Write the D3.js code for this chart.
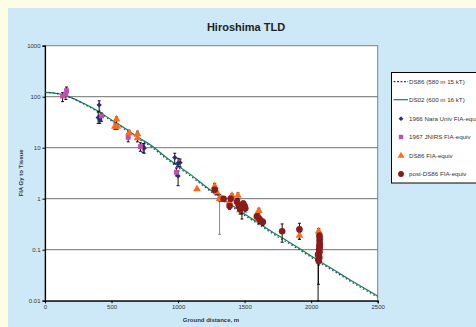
<!DOCTYPE html>
<html><head><meta charset="utf-8">
<script src="https://cdn.jsdelivr.net/npm/d3@7"></script>
<style>body{margin:0;background:#fdfde6;}svg{display:block;font-family:"Liberation Sans",Arial,sans-serif;}</style>
</head><body><svg id="c" width="476" height="327"></svg>
<script>
// ---- data ----
const title = "Hiroshima TLD";
const xLabel = "Ground distance, m";
const yLabel = "FIA Gy to Tissue";
const xTicks = [0, 500, 1000, 1500, 2000, 2500];
const yTicks = [0.01, 0.1, 1, 10, 100, 1000];
const yTickLabels = ["0.01", "0.1", "1", "10", "100", "1000"];
const legendLabels = ["DS86 (580 m 15 kT)", "DS02 (600 m 16 kT)", "1966 Nara Univ FIA-equiv", "1967 JNIRS FIA-equiv", "DS86 FIA-equiv", "post-DS86 FIA-equiv"];

const curveDist = [0, 100, 200, 300, 400, 500, 600, 700, 800, 900, 1000, 1100, 1200, 1300, 1400, 1500, 1600, 1700, 1800, 1900, 2000, 2100, 2200, 2300, 2400, 2500];
const ds02Curve = [122, 115, 95, 72, 52, 35, 24, 16, 11, 6.8, 4.4, 2.9, 1.8, 1.15, 0.76, 0.5, 0.34, 0.23, 0.16, 0.11, 0.075, 0.052, 0.036, 0.025, 0.0175, 0.0124];
const ds86Curve = [121, 114, 94, 70, 50, 33.5, 23, 15.2, 10.3, 6.4, 4.1, 2.7, 1.7, 1.08, 0.71, 0.47, 0.32, 0.215, 0.15, 0.104, 0.071, 0.049, 0.034, 0.0235, 0.0165, 0.0117];

// [distance, value, low, high]
const nara = [[407,69,52,83],[400,39,30,50],[412,35,30,42],[737,10.5,8,12],[745,9.8,7.8,12],[975,6.4,4.8,7.8],[1000,5.0,4.2,6.2],[1015,5.1,4.2,6.0],[1000,2.8,1.8,3.5]];
const jnirs = [[132,103,80,120],[157,112,88,140],[162,131,105,155],[425,42,33,48],[625,16,13,19],[717,10.5,8.5,12.5],[987,3.3,2.8,4]];
const ds86Pts = [[537,36,30,40],[525,26,23,29],[542,26,23,29],[632,19.5,16,22],[695,18.5,15,21],[695,15.5,13,18],[1142,1.55,null,null],[1275,1.75,1.5,2],[1290,1.35,1.2,1.6],[1312,1.0,0.9,1.2],[1330,1.0,0.9,1.1],[1387,0.85,0.75,1.0],[1405,1.15,1.0,1.25],[1450,1.15,1.0,1.3],[1457,0.8,0.65,0.95],[1465,0.6,0.5,0.7],[1480,0.65,0.5,0.75],[1607,0.58,0.5,0.65],[1607,0.38,0.32,0.44],[1912,0.19,0.16,0.22],[2057,0.23,0.2,0.26],[2062,0.06,null,null]];
const postPts = [[1275,1.5,1.3,1.7],[1342,1.0,0.9,1.1],[1387,0.72,0.62,0.82],[1395,1.0,0.88,1.15],[1442,0.87,0.75,1.0],[1457,0.72,0.6,0.85],[1467,0.62,0.55,0.72],[1480,0.66,0.4,0.8],[1490,0.8,0.7,0.9],[1500,0.72,0.6,0.85],[1505,0.65,0.55,0.75],[1592,0.45,0.4,0.52],[1612,0.4,0.35,0.46],[1637,0.35,0.3,0.4],[1782,0.23,0.14,0.32],[1912,0.25,0.16,0.33],[2052,0.08,0.01,0.1],[2055,0.065,0.021,0.08],[2062,0.19,0.16,0.22],[2064,0.17,0.15,0.2],[2063,0.15,0.13,0.17],[2065,0.13,0.11,0.15],[2062,0.12,0.1,0.14],[2064,0.11,0.09,0.13],[2060,0.1,0.085,0.12],[2063,0.09,0.08,0.1],[2058,0.08,0.07,0.09],[2061,0.07,0.06,0.08],[2057,0.06,0.05,0.07]];
const grayBars = [[1312, 0.2, 1.0]];

// ---- layout ----
const svg = d3.select("#c");
const L = 45, R = 377.7, T = 45.7, B = 300.7;
svg.append("rect").attr("x",8).attr("y",8).attr("width",468).attr("height",319).attr("fill","#cde9f8");
svg.append("rect").attr("x",L).attr("y",T).attr("width",R-L).attr("height",B-T).attr("fill","#fff").attr("stroke","#808080").attr("stroke-width",1);

const x = d3.scaleLinear().domain([0,2500]).range([L,R]);
const y = d3.scaleLog().domain([0.01,1000]).range([B,T]);

// gridlines
svg.append("g").selectAll("line").data(yTicks.slice(1,-1)).join("line")
  .attr("x1",L).attr("x2",R).attr("y1",d=>y(d)).attr("y2",d=>y(d)).attr("stroke","#707070").attr("stroke-width",1);

// axes
const xAxis = svg.append("g").attr("transform",`translate(0,${B})`)
  .call(d3.axisBottom(x).tickValues(xTicks).tickSize(2.5).tickPadding(2).tickFormat(d3.format("d")));
const yAxis = svg.append("g").attr("transform",`translate(${L},0)`)
  .call(d3.axisLeft(y).tickValues(yTicks).tickSize(2.5).tickPadding(2).tickFormat((d,i)=>yTickLabels[i]));
[xAxis,yAxis].forEach(g=>{
  g.select(".domain").attr("stroke","#000").attr("stroke-width",1.2);
  g.selectAll(".tick line").attr("stroke","#000");
  g.selectAll("text").attr("font-size",6).attr("fill","#333").attr("font-family","Liberation Sans, Arial");
});

// titles
svg.append("text").attr("x",246).attr("y",31).attr("text-anchor","middle").attr("font-size",11).attr("font-weight","bold").attr("fill","#222").text(title);
svg.append("text").attr("x",211).attr("y",322).attr("text-anchor","middle").attr("font-size",6).attr("font-weight","bold").attr("fill","#333").text(xLabel);
svg.append("text").attr("transform","translate(23,173) rotate(-90)").attr("text-anchor","middle").attr("font-size",6).attr("font-weight","bold").attr("fill","#333").text(yLabel);

// curves
const line = d3.line().x((d,i)=>x(curveDist[i])).y(d=>y(d)).curve(d3.curveMonotoneX);
svg.append("path").datum(ds02Curve).attr("d",line).attr("fill","none").attr("stroke","#0a8a46").attr("stroke-width",1.2);
svg.append("path").datum(ds86Curve).attr("d",line).attr("fill","none").attr("stroke","#333399").attr("stroke-width",1.2).attr("stroke-dasharray","1.5,2.5");

// error bars
const eb = svg.append("g");
function errBars(data){
  data.filter(d=>d[2]!=null).forEach(d=>{
    eb.append("line").attr("x1",x(d[0])).attr("x2",x(d[0])).attr("y1",y(d[2])).attr("y2",y(d[3])).attr("stroke","#111").attr("stroke-width",1);
    [d[2],d[3]].forEach(v=>eb.append("line").attr("x1",x(d[0])-1.5).attr("x2",x(d[0])+1.5).attr("y1",y(v)).attr("y2",y(v)).attr("stroke","#111").attr("stroke-width",1));
  });
}
grayBars.forEach(d=>{
  eb.append("line").attr("x1",x(d[0])).attr("x2",x(d[0])).attr("y1",y(d[1])).attr("y2",y(d[2])).attr("stroke","#888").attr("stroke-width",1);
  eb.append("line").attr("x1",x(d[0])-1.5).attr("x2",x(d[0])+1.5).attr("y1",y(d[1])).attr("y2",y(d[1])).attr("stroke","#888");
});
[nara,jnirs,ds86Pts,postPts].forEach(errBars);

// markers
const colors = ["#2b2b86","#c04fb0","#ff6a1a","#8b1a1a"];
const syms = [d3.symbolSquare, d3.symbolSquare, d3.symbolTriangle, d3.symbolCircle];
const rots = [45, 0, 0, 0];
const sizes = [14, 24, 26, 34];
[nara,jnirs,ds86Pts,postPts].forEach((data,k)=>{
  svg.append("g").selectAll("path").data(data).join("path")
    .attr("transform",d=>`translate(${x(d[0])},${y(d[1])}) rotate(${rots[k]})`)
    .attr("d",d3.symbol().type(syms[k]).size(sizes[k])).attr("fill",colors[k]);
});

// legend
const lg = svg.append("g");
lg.append("rect").attr("x",391.5).attr("y",72.5).attr("width",100).attr("height",110.5).attr("fill","#fff").attr("stroke","#000").attr("stroke-width",1);
const ly = [81.7,99.7,118.7,137,155.7,174];
legendLabels.forEach((t,i)=>{
  if(i<2){
    lg.append("line").attr("x1",393.5).attr("x2",408).attr("y1",ly[i]).attr("y2",ly[i])
      .attr("stroke",i==0?"#333399":"#0a8a46").attr("stroke-width",1.2).attr("stroke-dasharray",i==0?"2,1.5":null);
  } else {
    lg.append("path").attr("transform",`translate(401,${ly[i]}) rotate(${rots[i-2]})`).attr("d",d3.symbol().type(syms[i-2]).size(sizes[i-2]*0.8)).attr("fill",colors[i-2]);
  }
  lg.append("text").attr("x",409).attr("y",ly[i]+2).attr("font-size",6.2).attr("fill","#333").text(t);
});
</script></body></html>
